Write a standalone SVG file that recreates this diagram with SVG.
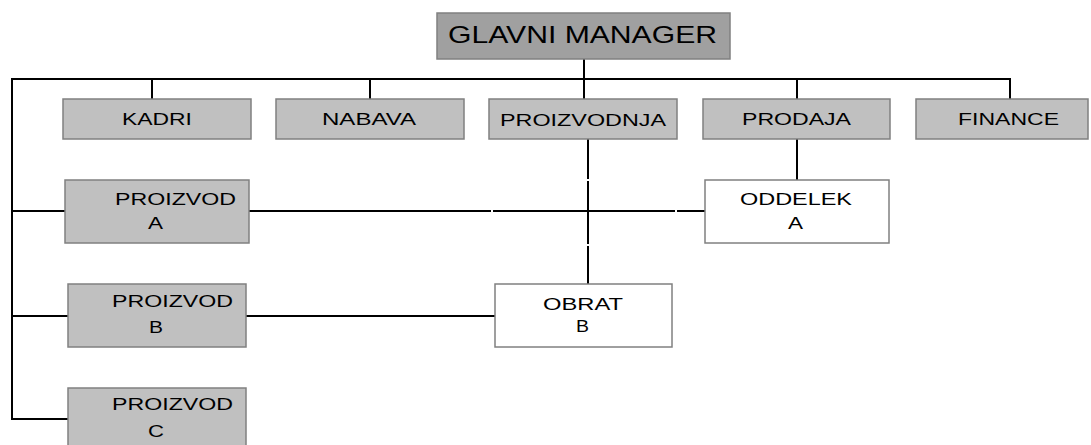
<svg xmlns="http://www.w3.org/2000/svg" width="1091" height="445" viewBox="0 0 1091 445">
<style>
.box{fill:#c0c0c0;stroke:#808080;stroke-width:1.5}
.top{fill:#a0a0a0;stroke:#808080;stroke-width:1.5}
.wbox{fill:#ffffff;stroke:#808080;stroke-width:1.5}
.t{font-family:"Liberation Sans",Arial,sans-serif;font-size:17px;fill:#000}
.tl{font-family:"Liberation Sans",Arial,sans-serif;font-size:24px;fill:#000}
#connectors line,#connectors polyline{stroke:#000;stroke-width:2;fill:none}
</style>
<rect width="1091" height="445" fill="#fff"/>
<g id="connectors">
<line x1="12" y1="79" x2="1010" y2="79"/>
<line x1="584" y1="59" x2="584" y2="99"/>
<line x1="152" y1="79" x2="152" y2="99"/>
<line x1="370" y1="79" x2="370" y2="99"/>
<line x1="797" y1="79" x2="797" y2="99"/>
<line x1="1010" y1="78" x2="1010" y2="99"/>
<polyline points="13,79 12,79 12,419 68,419"/>
<line x1="12" y1="211" x2="65" y2="211"/>
<line x1="12" y1="316" x2="68" y2="316"/>
<line x1="249" y1="211" x2="491" y2="211"/>
<line x1="493" y1="211" x2="675" y2="211"/>
<line x1="677" y1="211" x2="705" y2="211"/>
<line x1="588" y1="139" x2="588" y2="179"/>
<line x1="588" y1="181" x2="588" y2="244"/>
<line x1="588" y1="246" x2="588" y2="284"/>
<line x1="797" y1="139" x2="797" y2="180"/>
<line x1="246" y1="316" x2="495" y2="316"/>
</g>
<g id="glavni-manager"><rect class="top" x="437" y="13" width="293" height="46"/><text class="tl" x="448" y="43" textLength="269" lengthAdjust="spacingAndGlyphs">GLAVNI MANAGER</text></g>
<g id="kadri"><rect class="box" x="63" y="99" width="188" height="40"/><text class="t" x="122" y="125" textLength="70" lengthAdjust="spacingAndGlyphs">KADRI</text></g>
<g id="nabava"><rect class="box" x="276" y="99" width="188" height="40"/><text class="t" x="322" y="125" textLength="94" lengthAdjust="spacingAndGlyphs">NABAVA</text></g>
<g id="proizvodnja"><rect class="box" x="489" y="99" width="188" height="40"/><text class="t" x="500" y="126" textLength="166" lengthAdjust="spacingAndGlyphs">PROIZVODNJA</text></g>
<g id="prodaja"><rect class="box" x="703" y="99" width="187" height="40"/><text class="t" x="742" y="125" textLength="109" lengthAdjust="spacingAndGlyphs">PRODAJA</text></g>
<g id="finance"><rect class="box" x="916" y="99" width="172" height="40"/><text class="t" x="958" y="125" textLength="101" lengthAdjust="spacingAndGlyphs">FINANCE</text></g>
<g id="proizvod-a"><rect class="box" x="65" y="180" width="184" height="63"/><text class="t" x="115" y="205" textLength="121" lengthAdjust="spacingAndGlyphs">PROIZVOD</text><text class="t" x="148" y="229" textLength="15" lengthAdjust="spacingAndGlyphs">A</text></g>
<g id="proizvod-b"><rect class="box" x="68" y="284" width="178" height="63"/><text class="t" x="112" y="307" textLength="121" lengthAdjust="spacingAndGlyphs">PROIZVOD</text><text class="t" x="149" y="333" textLength="14" lengthAdjust="spacingAndGlyphs">B</text></g>
<g id="proizvod-c"><rect class="box" x="68" y="388" width="178" height="63"/><text class="t" x="112" y="410" textLength="121" lengthAdjust="spacingAndGlyphs">PROIZVOD</text><text class="t" x="148" y="437" textLength="16" lengthAdjust="spacingAndGlyphs">C</text></g>
<g id="oddelek-a"><rect class="wbox" x="705" y="180" width="184" height="63"/><text class="t" x="740" y="205" textLength="112" lengthAdjust="spacingAndGlyphs">ODDELEK</text><text class="t" x="788" y="229" textLength="15" lengthAdjust="spacingAndGlyphs">A</text></g>
<g id="obrat-b"><rect class="wbox" x="495" y="284" width="177" height="63"/><text class="t" x="543" y="310" textLength="80" lengthAdjust="spacingAndGlyphs">OBRAT</text><text class="t" x="576" y="332" textLength="13" lengthAdjust="spacingAndGlyphs">B</text></g>
</svg>
